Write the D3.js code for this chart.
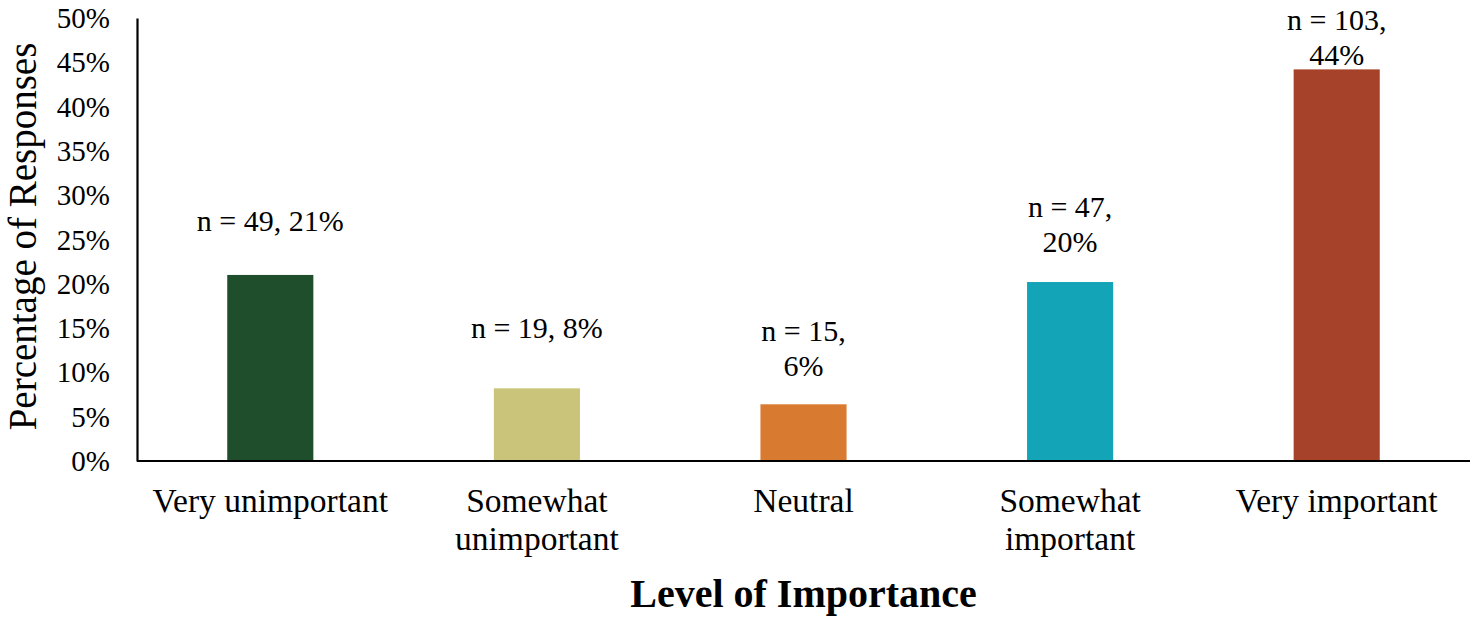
<!DOCTYPE html>
<html>
<head>
<meta charset="utf-8">
<script src="https://cdn.jsdelivr.net/npm/d3@7"></script>
<style>
  html, body { margin: 0; padding: 0; background: #fff; }
  svg { display: block; font-family: "Liberation Serif", "Times New Roman", serif; }
</style>
</head>
<body>
<svg id="chart" width="1477" height="622"></svg>
<script>
// ---- data ----
const categories = ["Very unimportant", "Somewhat unimportant", "Neutral", "Somewhat important", "Very important"];
const categoryLines = [["Very unimportant"], ["Somewhat", "unimportant"], ["Neutral"], ["Somewhat", "important"], ["Very important"]];
const counts = [49, 19, 15, 47, 103];
const percents = [21.0, 8.2, 6.4, 20.2, 44.2];
const percentLabels = ["21%", "8%", "6%", "20%", "44%"];
const colors = ["#1F4E2D", "#C9C47A", "#D97A31", "#14A4B8", "#A6422A"];
const yTicks = [0, 5, 10, 15, 20, 25, 30, 35, 40, 45, 50];

// ---- layout (not data) ----
const labelWrap = [false, false, true, true, true];
const labelGap = [44, 50, 28, 30, 4];   // px between last label baseline and bar top
const lineH = 35;

const svg = d3.select("#chart");
const mLeft = 137, mRight = 1470, mTop = 18, mBottom = 461;

const x = d3.scaleBand().domain(categories).range([mLeft, mRight]).paddingInner(0.677).paddingOuter(0.3385);
const y = d3.scaleLinear().domain([0, 50]).range([mBottom, mTop]);

// bars
svg.append("g").selectAll("rect").data(categories).join("rect")
  .attr("x", d => x(d))
  .attr("width", x.bandwidth())
  .attr("y", (d, i) => y(percents[i]))
  .attr("height", (d, i) => y(0) - y(percents[i]))
  .attr("fill", (d, i) => colors[i]);

// y axis
const yAxis = svg.append("g").attr("transform", `translate(${mLeft},0)`)
  .call(d3.axisLeft(y).tickValues(yTicks).tickFormat(d => d + "%").tickSizeInner(0).tickSizeOuter(0).tickPadding(27));
yAxis.select(".domain").attr("stroke", "#000").attr("stroke-width", 2.2);
yAxis.selectAll(".tick text").attr("font-size", 29).attr("font-family", "Liberation Serif, serif").attr("fill", "#000").attr("dy", "0.33em");

// x axis
const xAxis = svg.append("g").attr("transform", `translate(0,${mBottom})`)
  .call(d3.axisBottom(x).tickSizeInner(0).tickSizeOuter(0));
xAxis.select(".domain").attr("stroke", "#000").attr("stroke-width", 2.2).attr("d", `M${mLeft},0H${mRight}`);
xAxis.selectAll(".tick text").each(function(d, i) {
  const t = d3.select(this).text(null)
    .attr("font-size", 33.5).attr("font-family", "Liberation Serif, serif").attr("fill", "#000")
    .attr("y", 51).attr("dy", 0);
  categoryLines[i].forEach((ln, k) => {
    t.append("tspan").attr("x", 0).attr("dy", k === 0 ? 0 : 38).text(ln);
  });
});

// data labels
svg.append("g").selectAll("text").data(categories).join("text")
  .attr("text-anchor", "middle")
  .attr("font-size", 30)
  .attr("fill", "#000")
  .each(function(d, i) {
    const lines = labelWrap[i]
      ? [`n = ${counts[i]},`, percentLabels[i]]
      : [`n = ${counts[i]}, ${percentLabels[i]}`];
    const cx = x(d) + x.bandwidth() / 2;
    const lastBase = y(percents[i]) - labelGap[i];
    const t = d3.select(this);
    lines.forEach((ln, k) => {
      t.append("tspan").attr("x", cx)
        .attr("y", lastBase - (lines.length - 1 - k) * lineH)
        .text(ln);
    });
  });

// axis titles
svg.append("text")
  .attr("transform", `translate(36,${(mTop + mBottom) / 2 - 3}) rotate(-90)`)
  .attr("text-anchor", "middle")
  .attr("font-size", 39)
  .attr("fill", "#000")
  .text("Percentage of Responses");

svg.append("text")
  .attr("x", (mLeft + mRight) / 2)
  .attr("y", 607)
  .attr("text-anchor", "middle")
  .attr("font-size", 40)
  .attr("font-weight", "bold")
  .attr("fill", "#000")
  .text("Level of Importance");
</script>
</body>
</html>
